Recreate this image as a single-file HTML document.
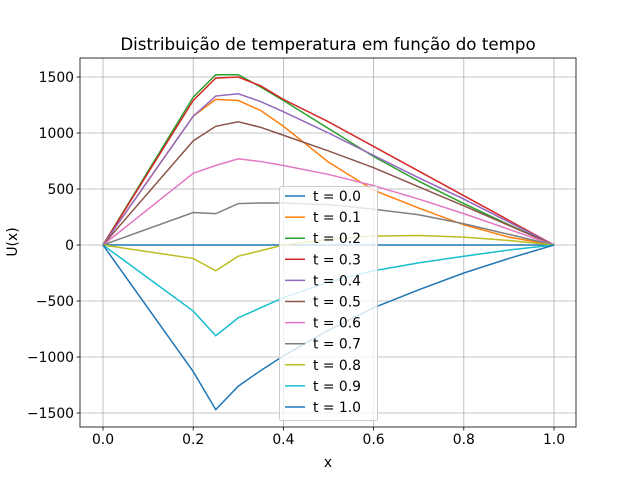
<!DOCTYPE html>
<html><head><meta charset="utf-8"><style>
body{margin:0;background:#fff}
svg{font-family:"DejaVu Sans","Liberation Sans",sans-serif}
</style></head><body>
<svg id="chart" width="640" height="480" xmlns="http://www.w3.org/2000/svg"></svg>
<script>
const xs = [0,0.2,0.25,0.3,0.35,0.4,0.5,0.6,0.7,0.8,0.9,1.0];
const labels = ["t = 0.0","t = 0.1","t = 0.2","t = 0.3","t = 0.4","t = 0.5","t = 0.6","t = 0.7","t = 0.8","t = 0.9","t = 1.0"];
const colors = ["#1f77b4","#ff7f0e","#2ca02c","#d62728","#9467bd","#8c564b","#e377c2","#7f7f7f","#bcbd22","#17becf","#1f77b4"];
const s0 = [0,0,0,0,0,0,0,0,0,0,0,0];
const s1 = [0,1150,1300,1290,1200,1060,740,490,330,180,70,0];
const s2 = [0,1320,1520,1520,1410,1290,1040,790,570,370,180,0];
const s3 = [0,1290,1490,1500,1420,1300,1100,880,660,440,220,0];
const s4 = [0,1150,1330,1350,1280,1190,1000,800,600,410,205,0];
const s5 = [0,930,1060,1100,1050,980,840,690,520,350,175,0];
const s6 = [0,640,710,770,745,710,630,530,410,280,140,0];
const s7 = [0,290,280,370,375,375,360,320,270,190,95,0];
const s8 = [0,-120,-230,-100,-50,0,50,80,85,70,40,0];
const s9 = [0,-590,-810,-650,-560,-470,-330,-230,-160,-100,-45,0];
const s10 = [0,-1130,-1470,-1260,-1120,-990,-760,-560,-400,-250,-120,0];
const series = [s0,s1,s2,s3,s4,s5,s6,s7,s8,s9,s10];
const xTicks = [0,0.2,0.4,0.6,0.8,1.0];
const xTickLabels = ["0.0","0.2","0.4","0.6","0.8","1.0"];
const yTicks = [-1500,-1000,-500,0,500,1000,1500];
const yTickLabels = ["−1500","−1000","−500","0","500","1000","1500"];

const L=80,R=576,T=58,B=427;
const X=v=>103+451*v;
const Y=v=>245-0.112*v;
const svg=document.getElementById('chart');
const NS="http://www.w3.org/2000/svg";
function mk(tag,attrs,parent){const e=document.createElementNS(NS,tag);for(const k in attrs)e.setAttribute(k,attrs[k]);(parent||svg).appendChild(e);return e;}

const grid=mk('g',{});


xTicks.forEach((v,i)=>{
  mk('line',{x1:X(v),x2:X(v),y1:T,y2:B,stroke:'#b0b0b0','stroke-width':0.8},grid);
  mk('line',{x1:X(v),x2:X(v),y1:B,y2:B+3.5,stroke:'#000','stroke-width':0.8});
  const t=mk('text',{x:X(v),y:B+17,'font-size':'13.9','text-anchor':'middle'});
  
  
  t.textContent=xTickLabels[i];
});
yTicks.forEach((v,i)=>{
  mk('line',{x1:L,x2:R,y1:Y(v),y2:Y(v),stroke:'#b0b0b0','stroke-width':0.8},grid);
  mk('line',{x1:L-3.5,x2:L,y1:Y(v),y2:Y(v),stroke:'#000','stroke-width':0.8});
  const t=mk('text',{x:L-6,y:Y(v)+5,'font-size':'13.9','text-anchor':'end'});
  
  
  t.textContent=yTickLabels[i];
});

series.forEach((s,i)=>{
  const p=mk('polyline',{points:s.map((v,j)=>X(xs[j])+','+Y(v)).join(' '),fill:'none',stroke:colors[i],'stroke-width':1.5});
  
  
});

const frame=mk('rect',{x:L,y:T,width:R-L,height:B-T,fill:'none',stroke:'#000','stroke-width':0.8});



const leg=mk('g',{});


mk('rect',{x:279.5,y:186.5,width:98,height:234,rx:2,fill:'#fff','fill-opacity':0.8,stroke:'#cccccc','stroke-width':1},leg);
labels.forEach((lb,i)=>{
  const y=196+21.1*i;
  mk('line',{x1:285,x2:305,y1:y,y2:y,stroke:colors[i],'stroke-width':1.5},leg);
  const t=mk('text',{x:313,y:y+5,'font-size':'13.9'},leg);
  
  
  t.textContent=lb;
});

const title=mk('text',{x:328,y:50,'font-size':'16.7','text-anchor':'middle'});


title.textContent='Distribuição de temperatura em função do tempo';
const xl=mk('text',{x:328,y:467,'font-size':'13.9','text-anchor':'middle'});


xl.textContent='x';
const yl=mk('text',{x:0,y:0,'font-size':'13.9','text-anchor':'middle',transform:'translate(17,242) rotate(-90)'});


yl.textContent='U(x)';
</script>
</body></html>
